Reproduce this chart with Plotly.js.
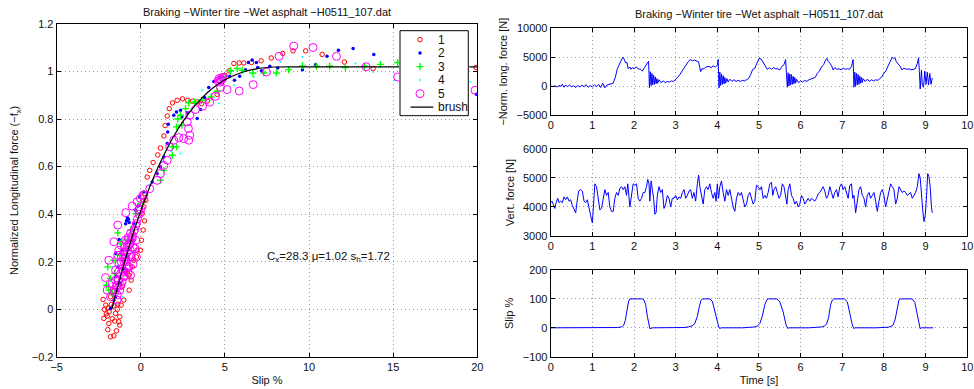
<!DOCTYPE html>
<html>
<head>
<meta charset="utf-8">
<script src="https://cdn.plot.ly/plotly-3.0.1.min.js"></script>
<style>html,body{margin:0;padding:0;background:#fff;}#chart{width:974px;height:389px;}</style>
</head>
<body>
<div id="chart"></div>
<script>
// ---------- Left panel: normalized longitudinal force vs slip ----------
const seriesNames = ['1', '2', '3', '4', '5'];
const slip1 = [-2.2,-2.0,-1.9,-1.96,-1.8,-1.6,-1.45,-1.25,-1.25,-1.5,
  -2.16,-2.24,-1.8,-1.6,-1.21,-0.81,-0.51,-0.26,-0.02,0.04,
  0.14,0.22,0.18,0.22,-2.08,-1.88,-1.6,-1.37,-1.17,-1.01,
  -0.69,-0.57,-0.42,-0.22,-0.71,-1.11,-0.91,-1.31,0.08,0.3,
  0.38,0.53,0.73,1.01,1.17,1.37,1.45,1.57,1.69,1.88,
  2.16,2.48,2.79,3.07,3.35,3.62,3.95,4.54,5.0,5.25,
  5.53,5.85,6.12,6.58,7.15,7.75,8.44,9.05,9.8,10.78,
  12.1,13.81,19.93,0.18,-2.05,-1.7,-1.4,-1.95,-1.75,-1.55];
const fx1 = [-0.039,-0.029,-0.06,-0.086,-0.116,-0.112,-0.091,-0.067,-0.032,-0.018,
  -0.001,0.041,0.052,0.08,0.122,0.15,0.178,0.22,0.248,0.29,
  0.333,0.372,0.431,0.487,0.017,-0.011,0.014,0.021,0.017,0.038,
  0.08,0.122,0.206,0.248,0.143,0.094,0.164,-0.053,0.403,0.459,
  0.556,0.584,0.617,0.649,0.678,0.729,0.773,0.813,0.844,0.868,
  0.879,0.885,0.879,0.875,0.872,0.865,0.876,0.904,0.984,1.003,
  1.034,1.036,1.036,1.038,1.045,1.057,1.076,1.087,1.087,1.072,
  1.04,1.013,1.017,0.458,-0.02,-0.04,0.0,0.005,0.02,-0.05];
const slip2 = [-1.8,-1.6,-1.5,-1.45,-1.5,-1.49,-1.29,-0.85,-0.69,-0.73,
  -0.32,-0.16,-0.06,-0.51,-0.81,-0.97,-1.21,-1.11,-0.42,-1.37,
  0.18,0.68,0.97,1.17,1.37,1.57,1.6,1.63,1.96,2.12,
  2.36,2.44,2.76,3.35,3.55,3.79,4.04,4.34,4.74,5.29,
  5.57,5.88,6.22,6.4,6.62,6.87,6.95,7.17,7.67,8.14,
  9.61,10.4,11.07,11.75,12.62,13.85,19.95,-0.8,-0.9];
const fx2 = [0.003,0.038,0.052,0.08,0.136,0.234,0.293,0.372,0.365,0.378,
  0.417,0.434,0.473,0.291,0.22,0.171,0.108,0.248,0.361,0.178,
  0.493,0.535,0.571,0.598,0.64,0.697,0.746,0.778,0.816,0.83,
  0.837,0.809,0.827,0.802,0.84,0.891,0.933,0.958,0.975,0.98,
  0.963,0.98,1.008,1.038,1.048,1.038,1.017,1.003,1.022,1.015,
  1.008,1.03,1.064,1.09,1.097,1.072,0.904,0.385,0.36];
const slip3 = [-2.04,-1.9,-1.8,-1.96,-1.6,-1.37,-1.21,-1.25,-0.91,-0.61,
  -0.28,-0.02,-1.56,-1.01,-1.7,-0.81,
  1.17,1.37,1.87,2.12,2.2,2.36,2.44,2.66,2.85,3.19,
  3.62,4.18,4.54,4.93,5.33,5.73,2.12,1.87,6.02,6.65,
  7.31,8.06,8.79,9.61,10.44,11.23,12.16,13.29,14.24,15.27];
const fx3 = [0.101,0.08,0.129,0.178,0.206,0.321,0.276,0.227,0.291,0.333,
  0.403,0.445,0.15,0.206,0.066,0.248,
  0.542,0.584,0.683,0.767,0.8,0.816,0.774,0.844,0.868,0.872,
  0.879,0.893,0.918,0.977,1.003,1.013,0.683,0.648,1.005,0.994,
  0.994,0.994,1.008,1.024,1.022,1.022,1.017,1.022,1.03,1.038];
const slip4 = [-1.6,-1.31,-1.21,-0.91,-0.61,-0.32,-0.12,-0.42,-1.11,-1.7,
  1.82,2.36,2.76,3.65,4.63,5.53,6.71,8.3,12.76,9.61,
  13.81,15.07,19.59,17.02,0.5,1.3];
const fx4 = [0.024,0.08,0.15,0.227,0.276,0.347,0.403,0.417,0.052,0.178,
  0.666,0.655,0.809,0.921,0.865,0.942,0.977,1.04,1.034,1.061,
  0.998,0.963,0.956,1.015,0.52,0.62];
const slip5 = [-2.1,-1.9,-2.0,-1.6,-1.37,-0.89,-0.51,-0.22,0.14,-1.5,
  -1.31,-1.17,-1.01,-0.81,-0.65,-0.51,-0.38,-0.26,-0.34,-0.26,
  -0.46,-0.75,-1.11,-1.41,-1.6,-1.8,-1.25,-1.01,-0.71,-0.57,
  -0.91,-0.61,-1.37,-1.5,-1.31,-1.17,-0.91,-0.61,-0.12,-0.02,
  -1.41,-1.7,
  -1.55,-1.45,-1.35,-1.2,-1.1,-1.0,-0.9,-0.8,-0.7,-0.6,
  -0.5,-0.4,-0.3,-0.2,-0.1,0.0,-1.3,-1.15,-0.95,-0.75,
  -1.4,-1.2,-1.0,-0.8,-0.6,-0.45,-0.3,-0.85,-1.05,-0.65,
  0.18,0.53,0.97,1.17,1.37,1.57,1.72,1.96,2.26,2.55,
  2.85,2.91,2.83,2.76,2.91,3.25,3.67,4.1,4.44,4.74,
  4.74,4.84,5.13,5.85,6.68,7.47,8.22,9.09,10.24,11.63,
  13.39,15.27,19.87,4.6,4.65,4.8,4.9,4.7];
const fx5 = [0.133,0.206,0.08,0.284,0.354,0.406,0.434,0.452,0.48,0.164,
  0.157,0.199,0.241,0.262,0.276,0.298,0.333,0.361,0.255,0.22,
  0.189,0.153,0.115,0.094,0.08,0.052,0.08,0.136,0.178,0.22,
  0.291,0.319,0.227,0.122,0.248,0.269,0.213,0.143,0.417,0.466,
  0.038,0.108,
  0.07,0.1,0.12,0.15,0.17,0.2,0.22,0.24,0.27,0.29,
  0.31,0.33,0.35,0.38,0.4,0.42,0.19,0.22,0.26,0.3,
  0.06,0.1,0.14,0.18,0.23,0.26,0.29,0.2,0.16,0.25,
  0.479,0.507,0.542,0.571,0.605,0.627,0.683,0.711,0.722,0.718,
  0.711,0.732,0.76,0.788,0.816,0.84,0.854,0.871,0.896,0.933,
  0.966,0.975,0.924,0.918,0.945,0.998,1.064,1.107,1.101,1.064,
  1.02,0.977,0.921,0.96,0.97,0.965,0.975,0.955];
// brush model curve
const brushSlip = [-1.72,-1.5,-1,-0.5,0,0.5,1,1.5,2,2.5,3,3.5,4,5,6,7,8,9.08,20];
const brushFx = [0,0.06,0.191,0.308,0.414,0.509,0.593,0.667,0.733,0.789,0.838,0.879,0.914,0.965,0.996,1.013,1.019,1.02,1.02];
const fitText = 'C<sub>x</sub>=28.3 μ=1.02 s<sub>h</sub>=1.72';
const titleText = 'Braking −Winter tire −Wet asphalt −H0511_107.dat';
const legendLabels = ['1', '2', '3', '4', '5', 'brush'];

// ---------- Right panels: time histories ----------
const tForce = [0,0.05,0.1,0.15,0.2,0.25,0.28,0.32,0.36,0.4,
  0.45,0.5,0.55,0.6,0.65,0.7,0.75,0.8,0.85,0.9,
  0.95,1.0,1.05,1.1,1.15,1.2,1.25,1.3,1.35,1.4,
  1.45,1.5,1.55,1.6,1.65,1.7,1.73,1.76,1.8,1.83,
  1.86,1.9,1.93,1.96,2.0,2.05,2.1,2.15,2.2,2.25,
  2.3,2.35,2.36,2.37,2.39,2.41,2.43,2.45,2.47,2.49,
  2.51,2.53,2.55,2.57,2.6,2.65,2.7,2.75,2.8,2.85,
  2.9,2.95,3.0,3.05,3.1,3.15,3.2,3.25,3.3,3.35,
  3.4,3.45,3.5,3.55,3.6,3.63,3.68,3.72,3.8,3.85,
  3.9,3.95,4.0,4.02,4.03,4.04,4.06,4.08,4.1,4.12,
  4.14,4.16,4.18,4.2,4.23,4.26,4.3,4.35,4.4,4.45,
  4.5,4.55,4.6,4.65,4.7,4.75,4.8,4.85,4.9,4.95,
  5.0,5.05,5.1,5.15,5.2,5.25,5.3,5.35,5.4,5.45,
  5.5,5.55,5.6,5.64,5.66,5.68,5.7,5.72,5.74,5.76,
  5.78,5.8,5.82,5.84,5.86,5.88,5.9,5.95,6.0,6.05,
  6.1,6.15,6.2,6.25,6.3,6.35,6.4,6.45,6.5,6.55,
  6.6,6.63,6.66,6.7,6.75,6.78,6.82,6.87,6.92,6.97,
  7.02,7.07,7.12,7.17,7.22,7.26,7.27,7.28,7.3,7.32,
  7.34,7.36,7.38,7.4,7.42,7.44,7.46,7.48,7.5,7.55,
  7.6,7.65,7.7,7.75,7.8,7.85,7.9,7.95,8.0,8.05,
  8.1,8.15,8.2,8.23,8.26,8.3,8.35,8.4,8.43,8.48,
  8.55,8.6,8.65,8.7,8.75,8.8,8.83,8.85,8.87,8.9,
  8.92,8.95,8.98,9.01,9.04,9.07,9.1,9.13,9.16];
const longForce = [0,-100,50,-150,100,-50,350,-200,200,-100,
  150,-100,50,-250,100,-150,150,-100,250,-200,
  100,-150,200,-100,300,-250,500,-300,200,300,
  350,500,1500,3000,3800,4600,5000,4700,4000,4100,
  3000,3300,2900,3200,3000,3300,3000,2900,2600,3200,
  3800,4300,2000,-300,2500,100,2200,200,1900,300,
  1600,400,1300,500,1100,600,900,600,800,700,
  900,800,1200,1500,2000,2600,3000,3600,4200,4600,
  4400,4500,4300,4200,2500,3000,3000,3300,3400,3200,
  3500,3300,3600,4600,2000,-300,2400,100,2100,300,
  1800,400,1500,500,1300,700,1200,800,1100,800,
  1000,800,1000,900,1100,1300,2000,2900,3100,4000,
  4800,4700,4000,3500,2900,3200,2900,3200,3000,3000,
  2800,3400,3700,4600,2000,-200,2300,0,2100,200,
  2000,300,1700,400,1500,500,1200,600,900,700,
  1000,800,1100,1200,1300,1500,2200,2600,3300,3700,
  4500,4800,4300,4000,3400,2800,3200,2900,3000,2800,
  3100,2900,3000,2900,3400,4600,2000,-200,2400,0,
  2200,200,2000,300,1700,500,1500,600,1300,800,
  1200,800,1100,900,1100,1000,1300,1600,2200,2700,
  3500,4300,5000,4800,4900,4200,3800,3300,2800,3100,
  2900,3000,2800,2900,3000,3900,4900,2500,-500,2800,
  200,-200,2600,300,2400,200,2200,300,1400];
const tVert = [0,0.03,0.06,0.1,0.13,0.17,0.2,0.24,0.28,0.32,
  0.36,0.4,0.44,0.48,0.52,0.56,0.6,0.63,0.67,0.72,
  0.76,0.8,0.84,0.88,0.92,0.96,1.0,1.03,1.06,1.1,
  1.14,1.18,1.22,1.26,1.3,1.34,1.38,1.42,1.46,1.5,
  1.54,1.58,1.62,1.66,1.7,1.74,1.78,1.82,1.85,1.9,
  1.94,1.98,2.02,2.06,2.1,2.14,2.18,2.22,2.26,2.3,
  2.33,2.36,2.38,2.41,2.44,2.47,2.5,2.53,2.56,2.6,
  2.64,2.68,2.72,2.76,2.8,2.84,2.88,2.92,2.96,3.0,
  3.04,3.08,3.12,3.16,3.2,3.24,3.28,3.32,3.36,3.4,
  3.44,3.48,3.52,3.55,3.58,3.62,3.66,3.7,3.74,3.78,
  3.82,3.86,3.9,3.94,3.97,4.0,4.03,4.06,4.1,4.14,
  4.18,4.22,4.26,4.3,4.34,4.38,4.42,4.46,4.5,4.54,
  4.58,4.62,4.66,4.7,4.74,4.78,4.82,4.86,4.9,4.94,
  4.98,5.02,5.06,5.1,5.14,5.18,5.22,5.26,5.3,5.33,
  5.36,5.4,5.44,5.48,5.52,5.56,5.6,5.64,5.67,5.7,
  5.74,5.78,5.82,5.86,5.9,5.94,5.98,6.02,6.06,6.1,
  6.14,6.18,6.22,6.26,6.3,6.34,6.38,6.42,6.46,6.5,
  6.54,6.58,6.62,6.66,6.7,6.74,6.78,6.82,6.86,6.9,
  6.94,6.98,7.02,7.06,7.1,7.14,7.18,7.22,7.25,7.28,
  7.32,7.36,7.4,7.44,7.48,7.52,7.56,7.6,7.64,7.68,
  7.72,7.76,7.8,7.84,7.88,7.92,7.96,8.0,8.04,8.08,
  8.12,8.16,8.2,8.24,8.28,8.32,8.36,8.4,8.44,8.48,
  8.52,8.56,8.6,8.64,8.68,8.72,8.76,8.8,8.84,8.87,
  8.9,8.93,8.96,8.99,9.02,9.05,9.08,9.11,9.14,9.16];
const vertForce = [4150,4200,4100,3950,4150,4300,4150,4200,4150,4350,
  4250,4350,4200,4250,4050,3950,3800,4150,4550,4600,
  4550,4200,4150,4250,3900,3700,3450,4300,4800,4700,
  4200,3900,3950,4300,4600,4400,4500,4000,3850,3850,
  4300,4500,4400,4650,4700,4600,4700,4400,4800,4000,
  4500,4800,4750,4800,4300,4200,4300,4500,4500,4700,
  4950,4800,4200,4900,4600,4300,3750,3800,4400,4700,
  4500,4600,3950,4100,4400,4300,4000,4300,4300,4400,
  4250,4350,4300,4500,4600,4300,4400,4550,4600,4300,
  4500,4200,4800,5100,4700,4400,4100,4600,4700,4600,
  4800,4500,4300,4500,4200,4800,4300,4700,4900,4500,
  4200,4600,4400,4600,4300,4000,3850,4300,4500,4400,
  4500,4200,4000,4100,4400,4500,4300,4100,4200,4750,
  4700,4600,4700,4300,4400,4300,4500,4800,4850,4400,
  4600,4700,4500,4300,4400,4800,4700,4300,4100,4600,
  4800,4400,4300,4100,4200,4000,4100,4400,4300,4100,
  4200,4300,4200,4300,4250,4200,4300,4450,4500,4600,
  4700,4550,4300,4400,4700,4500,4300,4500,4600,4350,
  4700,4800,4600,4700,4500,4300,4750,4800,4300,4400,
  3800,4300,4600,4700,4400,4300,4000,4400,4500,4300,
  4400,4500,4200,3850,4200,4500,4600,4400,4000,4300,
  4600,4800,4700,4600,4100,4300,4700,4600,4500,4550,
  4500,4400,4450,4500,4300,4400,4500,4700,5150,5000,
  4300,3900,3500,3700,4300,5150,5050,4700,4000,3800];
const tSlip = [0,0.5,1.0,1.3,1.5,1.6,1.7,1.75,1.79,1.83,
  1.87,1.9,2.2,2.24,2.28,2.32,2.36,2.38,2.45,3.0,
  3.2,3.3,3.4,3.46,3.52,3.57,3.61,3.64,3.82,3.88,
  3.94,4.0,4.04,4.06,4.1,4.6,4.8,4.9,4.97,5.02,
  5.08,5.14,5.19,5.23,5.43,5.5,5.58,5.65,5.69,5.72,
  6.2,6.4,6.5,6.57,6.62,6.67,6.72,6.76,6.79,7.05,
  7.12,7.18,7.24,7.28,7.3,7.8,8.0,8.1,8.17,8.22,
  8.27,8.32,8.36,8.39,8.68,8.74,8.8,8.85,8.87,8.9,
  9.0,9.05,9.18];
const slipPct = [0,0,0,0,0.5,1,3,8,25,60,
  92,100,100,96,80,40,5,-3,0,0,
  1,3,7,15,40,75,95,100,100,92,
  60,20,0,-2,0,0,1,3,7,15,
  40,80,97,100,100,90,55,10,-2,0,
  0,1,3,6,12,35,80,96,100,100,
  90,50,10,-3,0,0,1,2,5,10,
  30,75,96,100,100,88,45,5,-3,0,
  1,0,0];

const FONT = 'Liberation Sans, Arial, Helvetica, sans-serif';
const markerStyles = [
  {color: '#ff0000', symbol: 'circle-open', size: 4.5, line: {width: 1, color: '#ff0000'}},
  {color: '#0000ff', symbol: 'circle', size: 3.5},
  {color: '#00ff00', symbol: 'cross-thin-open', size: 5, line: {width: 1.4, color: '#00ff00'}},
  {color: '#00ffff', symbol: 'circle', size: 2},
  {color: '#ff00ff', symbol: 'circle-open', size: 8, line: {width: 1, color: '#ff00ff'}}
];
const sx = [slip1, slip2, slip3, slip4, slip5];
const sy = [fx1, fx2, fx3, fx4, fx5];
const traces = [];
for (let i = 0; i < 5; i++) {
  traces.push({x: sx[i], y: sy[i], name: seriesNames[i], type: 'scatter', mode: 'markers',
    marker: markerStyles[i], xaxis: 'x', yaxis: 'y', showlegend: false});
}
traces.push({x: brushSlip, y: brushFx, name: 'brush', type: 'scatter', mode: 'lines',
  line: {color: 'black', width: 1.2, shape: 'spline', smoothing: 0.6}, xaxis: 'x', yaxis: 'y', showlegend: false});
traces.push({x: tForce, y: longForce, type: 'scatter', mode: 'lines', showlegend: false,
  line: {color: '#0000ff', width: 1}, xaxis: 'x2', yaxis: 'y2'});
traces.push({x: tVert, y: vertForce, type: 'scatter', mode: 'lines', showlegend: false,
  line: {color: '#0000ff', width: 1}, xaxis: 'x3', yaxis: 'y3'});
traces.push({x: tSlip, y: slipPct, type: 'scatter', mode: 'lines', showlegend: false,
  line: {color: '#0000ff', width: 1}, xaxis: 'x4', yaxis: 'y4'});

// ---------- compact legend box (own overlay axes in pixel units) ----------
const LG = {left: 400, right: 468.3, top: 30.7, bottom: 115.7, symX: 420, txtX: 436,
  firstY: 39.6, step: 13.5, lineX0: 410.5, lineX1: 433.3};
const W = 974, H = 389;
traces.push({x: [LG.left, LG.right, LG.right, LG.left, LG.left],
  y: [LG.top, LG.top, LG.bottom, LG.bottom, LG.top],
  type: 'scatter', mode: 'lines', fill: 'toself', fillcolor: 'white',
  line: {color: 'black', width: 1}, xaxis: 'x5', yaxis: 'y5', showlegend: false, hoverinfo: 'skip'});
const legendAnn = [];
for (let i = 0; i < 5; i++) {
  const yy = LG.firstY + LG.step * i;
  traces.push({x: [LG.symX], y: [yy], type: 'scatter', mode: 'markers', marker: markerStyles[i],
    xaxis: 'x5', yaxis: 'y5', showlegend: false, cliponaxis: false});
}
const brushY = LG.firstY + LG.step * 5;
traces.push({x: [LG.lineX0, LG.lineX1], y: [brushY, brushY], type: 'scatter', mode: 'lines',
  line: {color: 'black', width: 1.2}, xaxis: 'x5', yaxis: 'y5', showlegend: false});
legendLabels.forEach((lab, i) => {
  legendAnn.push({text: lab, xref: 'x5', yref: 'y5', x: LG.txtX, y: LG.firstY + LG.step * i,
    xanchor: 'left', yanchor: 'middle', showarrow: false,
    font: {family: FONT, size: 12, color: '#111'}});
});

const base = {
  showline: true, linecolor: 'black', linewidth: 1, mirror: 'ticks',
  ticks: 'inside', ticklen: 4, tickcolor: 'black', tickwidth: 1,
  showgrid: true, gridcolor: '#9a9a9a', griddash: '1px,3px', gridwidth: 1,
  zeroline: false, automargin: false, fixedrange: true,
  tickfont: {family: FONT, size: 11, color: '#111'}
};
function ax(extra) { return Object.assign({}, base, extra); }
const timeTicks = [0,1,2,3,4,5,6,7,8,9,10];
const titleFont = {family: FONT, size: 11, color: '#111'};

const layout = {
  width: W, height: H,
  margin: {l: 0, r: 0, t: 0, b: 0},
  paper_bgcolor: 'white', plot_bgcolor: 'white',
  font: {family: FONT, size: 11, color: '#111'},
  showlegend: false,
  xaxis: ax({domain: [0.0582, 0.4900], range: [-5, 20], anchor: 'y',
    tickvals: [-5, 0, 5, 10, 15, 20], ticktext: ['−5', '0', '5', '10', '15', '20'],
    title: {text: 'Slip %', font: titleFont, standoff: 4}}),
  yaxis: ax({domain: [0.0830, 0.9383], range: [-0.2, 1.2], anchor: 'x',
    tickvals: [-0.2, 0, 0.2, 0.4, 0.6, 0.8, 1, 1.2],
    ticktext: ['−0.2', '0', '0.2', '0.4', '0.6', '0.8', '1', '1.2'],
    title: {text: 'Normalized Longitudinal force (−f<sub>x</sub>)', font: titleFont, standoff: 10}}),
  xaxis2: ax({domain: [0.5654, 0.9931], range: [0, 10], anchor: 'y2', tickvals: timeTicks}),
  yaxis2: ax({domain: [0.7044, 0.9272], range: [-5000, 10000], anchor: 'x2',
    tickvals: [-5000, 0, 5000, 10000], ticktext: ['−5000', '0', '5000', '10000'],
    title: {text: '−Norm. long. force [N]', font: titleFont, standoff: 6}}),
  xaxis3: ax({domain: [0.5654, 0.9931], range: [0, 10], anchor: 'y3', tickvals: timeTicks}),
  yaxis3: ax({domain: [0.3933, 0.6170], range: [3000, 6000], anchor: 'x3',
    tickvals: [3000, 4000, 5000, 6000],
    title: {text: 'Vert. force [N]', font: titleFont, standoff: 6}}),
  xaxis4: ax({domain: [0.5654, 0.9931], range: [0, 10], anchor: 'y4', tickvals: timeTicks,
    title: {text: 'Time [s]', font: titleFont, standoff: 4}}),
  yaxis4: ax({domain: [0.0830, 0.3059], range: [-100, 200], anchor: 'x4',
    tickvals: [-100, 0, 100, 200], ticktext: ['−100', '0', '100', '200'],
    title: {text: 'Slip %', font: titleFont, standoff: 6}}),
  xaxis5: {domain: [(LG.left - 1) / W, (LG.right + 1) / W], range: [LG.left - 1, LG.right + 1],
    visible: false, fixedrange: true, anchor: 'y5'},
  yaxis5: {domain: [1 - (LG.bottom + 1) / H, 1 - (LG.top - 1) / H], range: [LG.bottom + 1, LG.top - 1],
    visible: false, fixedrange: true, anchor: 'x5'},
  annotations: [
    {text: titleText, xref: 'paper', yref: 'paper', x: 0.2741, y: 1 - 12 / H,
      xanchor: 'center', yanchor: 'middle', showarrow: false, font: titleFont},
    {text: titleText, xref: 'paper', yref: 'paper', x: 0.7792, y: 1 - 14 / H,
      xanchor: 'center', yanchor: 'middle', showarrow: false, font: titleFont},
    {text: fitText, xref: 'x', yref: 'y', x: 7.4, y: 0.22, xanchor: 'left', yanchor: 'middle',
      showarrow: false, font: {family: FONT, size: 11.5, color: '#111'}}
  ].concat(legendAnn)
};

Plotly.newPlot('chart', traces, layout, {staticPlot: true, displayModeBar: false});
</script>
</body>
</html>
